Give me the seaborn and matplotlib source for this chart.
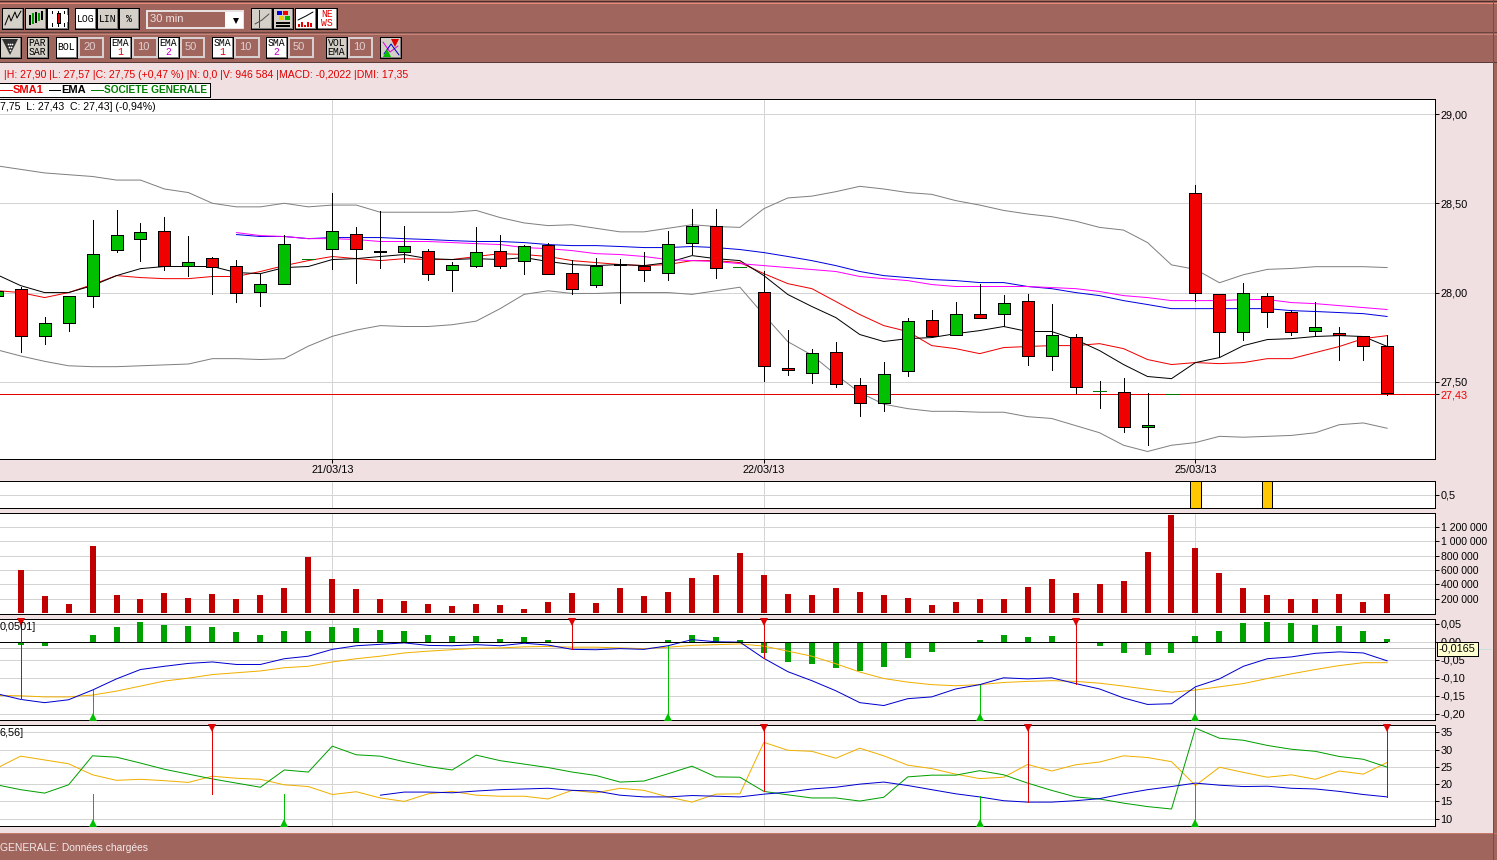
import numpy as np
import pandas as pd
import matplotlib
matplotlib.use("Agg")
import matplotlib.pyplot as plt
from matplotlib.patches import Rectangle
import seaborn as sns

# ---------------- data ----------------
bar_index = list(range(-1, 58))
highs = [28.01, 28.03, 27.865, 27.98, 28.405, 28.46, 28.39, 28.425, 28.315, 28.20, 28.18, 28.105, 28.325, 28.19, 28.56, 28.37, 28.455, 28.375, 28.245, 28.17, 28.37, 28.32, 28.265, 28.28, 28.185, 28.195, 28.19, 28.225, 28.345, 28.47, 28.47, 28.145, 28.12, 27.79, 27.685, 27.725, 27.52, 27.61, 27.855, 27.905, 27.95, 28.05, 27.985, 27.99, 27.935, 27.77, 27.505, 27.52, 27.435, 27.43, 28.605, 27.99, 28.055, 28.00, 27.905, 27.945, 27.81, 27.755, 27.76]
lows = [27.98, 27.665, 27.71, 27.785, 27.92, 28.23, 28.175, 28.125, 28.095, 27.99, 27.95, 27.925, 28.05, 28.19, 28.13, 28.055, 28.14, 28.17, 28.07, 28.01, 28.145, 28.135, 28.105, 28.105, 27.99, 28.03, 27.94, 28.065, 28.07, 28.215, 28.08, 28.145, 27.505, 27.54, 27.495, 27.47, 27.31, 27.335, 27.535, 27.75, 27.765, 27.86, 27.815, 27.595, 27.565, 27.435, 27.355, 27.22, 27.145, 27.43, 27.955, 27.645, 27.735, 27.81, 27.76, 27.755, 27.62, 27.625, 27.425]
opens = [27.98, 28.02, 27.755, 27.83, 27.98, 28.24, 28.30, 28.345, 28.15, 28.195, 28.15, 28.005, 28.05, 28.19, 28.245, 28.33, 28.23, 28.23, 28.235, 28.125, 28.15, 28.235, 28.175, 28.265, 28.11, 28.04, 28.155, 28.15, 28.11, 28.275, 28.375, 28.145, 28.005, 27.58, 27.55, 27.665, 27.48, 27.38, 27.56, 27.845, 27.765, 27.88, 27.88, 27.955, 27.645, 27.75, 27.45, 27.445, 27.245, 27.43, 28.555, 27.99, 27.78, 27.98, 27.89, 27.785, 27.775, 27.755, 27.70]
closes = [28.01, 27.755, 27.83, 27.98, 28.215, 28.325, 28.34, 28.15, 28.17, 28.145, 28.00, 28.05, 28.27, 28.19, 28.345, 28.245, 28.235, 28.26, 28.105, 28.155, 28.23, 28.15, 28.26, 28.105, 28.02, 28.15, 28.16, 28.125, 28.27, 28.375, 28.14, 28.145, 27.59, 27.565, 27.66, 27.49, 27.38, 27.545, 27.84, 27.755, 27.88, 27.86, 27.94, 27.645, 27.765, 27.47, 27.45, 27.25, 27.26, 27.43, 27.995, 27.78, 27.995, 27.89, 27.78, 27.805, 27.765, 27.70, 27.435]
boll_upper = [28.71, 28.69, 28.67, 28.66, 28.65, 28.63, 28.63, 28.58, 28.56, 28.50, 28.48, 28.48, 28.50, 28.48, 28.49, 28.49, 28.45, 28.45, 28.45, 28.45, 28.46, 28.42, 28.39, 28.375, 28.38, 28.36, 28.34, 28.34, 28.36, 28.38, 28.37, 28.365, 28.47, 28.53, 28.54, 28.565, 28.595, 28.58, 28.56, 28.55, 28.515, 28.49, 28.46, 28.44, 28.425, 28.40, 28.365, 28.35, 28.28, 28.155, 28.13, 28.055, 28.10, 28.13, 28.135, 28.145, 28.145, 28.145, 28.14]
boll_lower = [27.68, 27.645, 27.615, 27.59, 27.585, 27.585, 27.59, 27.595, 27.60, 27.63, 27.63, 27.625, 27.63, 27.70, 27.755, 27.79, 27.815, 27.81, 27.81, 27.82, 27.84, 27.91, 27.99, 28.01, 27.995, 27.995, 28.00, 28.00, 28.00, 27.99, 28.01, 28.03, 27.875, 27.725, 27.65, 27.54, 27.44, 27.375, 27.35, 27.335, 27.335, 27.33, 27.33, 27.305, 27.295, 27.255, 27.215, 27.145, 27.11, 27.145, 27.16, 27.195, 27.19, 27.195, 27.20, 27.215, 27.26, 27.27, 27.24]
sma1 = [28.011, 28.0, 27.972, 28.0, 28.045, 28.095, 28.084, 28.078, 28.078, 28.09, 28.09, 28.118, 28.151, 28.179, 28.202, 28.19, 28.179, 28.19, 28.185, 28.185, 28.202, 28.218, 28.213, 28.202, 28.179, 28.168, 28.157, 28.151, 28.157, 28.179, 28.179, 28.168, 28.106, 28.05, 28.022, 27.95, 27.877, 27.815, 27.782, 27.703, 27.686, 27.658, 27.692, 27.698, 27.703, 27.703, 27.714, 27.686, 27.625, 27.597, 27.608, 27.602, 27.608, 27.63, 27.63, 27.664, 27.698, 27.742, 27.759]
ema1 = [28.101, 28.039, 28.0, 28.0, 28.039, 28.095, 28.134, 28.146, 28.146, 28.146, 28.112, 28.106, 28.14, 28.146, 28.185, 28.19, 28.202, 28.213, 28.19, 28.185, 28.19, 28.185, 28.196, 28.174, 28.157, 28.151, 28.157, 28.151, 28.168, 28.207, 28.19, 28.179, 28.095, 27.989, 27.922, 27.86, 27.765, 27.726, 27.742, 27.748, 27.77, 27.787, 27.81, 27.782, 27.782, 27.737, 27.675, 27.597, 27.53, 27.518, 27.608, 27.636, 27.703, 27.737, 27.742, 27.754, 27.759, 27.754, 27.698]
long_index = list(range(9, 58))
ema2 = [28.325, 28.314, 28.314, 28.302, 28.308, 28.308, 28.308, 28.302, 28.297, 28.291, 28.286, 28.286, 28.28, 28.269, 28.263, 28.263, 28.258, 28.252, 28.252, 28.258, 28.252, 28.241, 28.224, 28.202, 28.179, 28.151, 28.118, 28.095, 28.084, 28.073, 28.067, 28.056, 28.056, 28.034, 28.022, 28.0, 27.983, 27.955, 27.933, 27.91, 27.91, 27.91, 27.91, 27.91, 27.899, 27.894, 27.888, 27.882, 27.866]
sma2 = [28.336, 28.319, 28.314, 28.302, 28.302, 28.297, 28.286, 28.286, 28.286, 28.28, 28.274, 28.269, 28.252, 28.246, 28.235, 28.218, 28.213, 28.202, 28.185, 28.179, 28.174, 28.162, 28.151, 28.14, 28.129, 28.118, 28.09, 28.078, 28.067, 28.045, 28.034, 28.034, 28.034, 28.034, 28.028, 28.022, 28.006, 27.983, 27.972, 27.955, 27.955, 27.955, 27.961, 27.961, 27.944, 27.938, 27.927, 27.916, 27.905]
last_price = 27.43
price_ticks = [29.0, 28.5, 28.0, 27.5, 27.43]
price_labels = ["29,00", "28,50", "28,00", "27,50", "27,43"]
date_ticks = [13, 31, 49]
date_labels = ["21/03/13", "22/03/13", "25/03/13"]

flag_index = [49, 52]
flag_values = [1, 1]

vol_index = list(range(0, 58))
volumes = [602, 241, 130, 935, 255, 199, 282, 213, 269, 199, 255, 352, 782, 477, 338, 199, 171, 130, 102, 130, 116, 60, 157, 282, 144, 352, 241, 296, 491, 532, 838, 532, 269, 255, 352, 296, 255, 213, 116, 157, 199, 199, 366, 477, 282, 407, 449, 852, 1366, 907, 560, 352, 255, 199, 199, 269, 157, 269]
vol_ticks = [200, 400, 600, 800, 1000, 1200]
vol_labels = ["200 000", "400 000", "600 000", "800 000", "1 000 000", "1 200 000"]

macd_hist = [-0.010, -0.013, -0.004, 0.018, 0.040, 0.054, 0.048, 0.045, 0.040, 0.026, 0.020, 0.031, 0.031, 0.040, 0.037, 0.034, 0.031, 0.020, 0.015, 0.015, 0.009, 0.012, 0.006, -0.004, -0.004, 0.0, 0.0, 0.006, 0.020, 0.012, 0.006, -0.032, -0.057, -0.063, -0.074, -0.082, -0.071, -0.044, -0.027, -0.004, 0.006, 0.020, 0.012, 0.015, -0.004, -0.013, -0.032, -0.038, -0.030, 0.015, 0.029, 0.051, 0.056, 0.051, 0.048, 0.043, 0.031, 0.009]
macd_line = [-0.144, -0.160, -0.169, -0.161, -0.134, -0.103, -0.077, -0.068, -0.060, -0.056, -0.063, -0.063, -0.047, -0.040, -0.021, -0.011, -0.007, -0.003, -0.010, -0.011, -0.008, -0.011, -0.004, -0.009, -0.021, -0.022, -0.019, -0.021, -0.011, 0.006, 0.0, -0.001, -0.046, -0.083, -0.108, -0.136, -0.169, -0.177, -0.158, -0.153, -0.131, -0.119, -0.100, -0.103, -0.100, -0.116, -0.131, -0.156, -0.174, -0.172, -0.125, -0.103, -0.068, -0.047, -0.042, -0.032, -0.028, -0.031, -0.053]
macd_signal = [-0.149, -0.150, -0.153, -0.153, -0.148, -0.137, -0.123, -0.109, -0.101, -0.091, -0.086, -0.081, -0.072, -0.068, -0.056, -0.047, -0.040, -0.031, -0.026, -0.022, -0.018, -0.017, -0.014, -0.013, -0.015, -0.015, -0.017, -0.019, -0.015, -0.010, -0.008, -0.006, -0.012, -0.026, -0.040, -0.061, -0.084, -0.102, -0.112, -0.119, -0.122, -0.119, -0.113, -0.110, -0.108, -0.110, -0.115, -0.123, -0.132, -0.140, -0.134, -0.125, -0.116, -0.102, -0.089, -0.077, -0.066, -0.058, -0.058]
macd_ticks = [0.05, 0.0, -0.05, -0.10, -0.15, -0.20]
macd_labels = ["0,05", "0,00", "-0,05", "-0,10", "-0,15", "-0,20"]
macd_sell = [0, 23, 31, 44]
macd_buy = [3, 27, 40, 49]
macd_current = -0.0165

dmi_plus = [19.8, 18.4, 17.4, 19.8, 28.2, 27.8, 26.1, 24.3, 22.9, 21.5, 20.3, 19.1, 24.1, 23.5, 31, 28.5, 28.1, 26.5, 25.1, 24.1, 28.4, 26.8, 25.8, 24.8, 23.5, 22.5, 20.6, 20.9, 23, 25.2, 22.1, 22, 17.9, 16.9, 16, 16, 15.1, 16.2, 22.1, 22.6, 22.6, 23.9, 22.7, 20.3, 18.2, 16.3, 15.7, 14.5, 13.5, 12.8, 36.2, 33.3, 32.7, 31.2, 30.1, 29.5, 28, 27.2, 24.9]
dmi_minus = [24.6, 28.1, 27, 25.9, 22.7, 21.1, 21.4, 21, 20.5, 22.3, 21.7, 21.4, 19.8, 19.3, 17, 17.8, 16, 15, 17.2, 17.9, 16.8, 16.5, 16.5, 15.7, 18.2, 17.5, 18.8, 18.2, 16.3, 14.8, 17.1, 17.2, 32.1, 29.8, 29.5, 27.5, 30.4, 28.2, 25.5, 24.5, 22.9, 21.6, 22, 25.7, 23.8, 25.6, 26.4, 28.2, 27.7, 26.5, 19.6, 24.9, 23.4, 22, 22.7, 21.4, 23.8, 22.9, 26.3]
adx_index = list(range(15, 58))
adx = [16.8, 17.7, 17.7, 17.5, 18, 18.4, 18.6, 18.8, 18.2, 18, 16.8, 16.3, 16.3, 16.7, 16.5, 16.3, 17.1, 17.7, 18.6, 19.1, 20, 20.6, 19.6, 18.4, 17.2, 16.3, 15.2, 14.8, 14.8, 15.2, 15.8, 17.2, 18.4, 19.3, 20.3, 19.7, 19.3, 19.4, 18.8, 18.6, 17.9, 17, 16.3]
dmi_ticks = [35, 30, 25, 20, 15, 10]
dmi_sell = [8, 31, 42, 57]
dmi_sell_level = [17, 17.9, 14.8, 16.3]
dmi_buy = [3, 11, 40, 49]
dmi_buy_level = [17.2, 17.2, 16.6, 20.3]

# ---------------- styles ----------------
W, H = 1497, 860
BROWN = "#A0665E"
PINK = "#F0E0E1"
GRID = "#D4D4D4"
PX = 0.72
THIN = 0.72
sns.set_theme(style="white", rc={
    "lines.antialiased": False, "patch.antialiased": False,
    "axes.edgecolor": "black", "axes.linewidth": PX, "axes.axisbelow": True,
    "grid.color": GRID, "grid.linewidth": PX, "xtick.color": "black", "ytick.color": "black"})
plt.rcParams["font.family"] = ["Liberation Sans", "DejaVu Sans"]

fig = plt.figure(figsize=(W / 100, H / 100), dpi=100, facecolor=PINK)
AX_R = 1435


def panel(top, bottom, ylim, ticks, labels):
    ax = fig.add_axes([0, 1 - bottom / H, AX_R / W, (bottom - top) / H], facecolor="white")
    return ax, ylim, ticks, labels


def finish(ax, ylim, ticks, labels, show_dates=False, size=7.8):
    ax.set_xlim(-20.6 / 23.977, (AX_R - 20.6) / 23.977)
    ax.set_ylim(*ylim)
    ax.set_xticks(date_ticks)
    ax.set_yticks(ticks)
    ax.set_yticklabels(labels)
    ax.set_xlabel("")
    ax.set_ylabel("")
    ax.grid(True, axis="both")
    ax.spines["left"].set_visible(False)
    ax.tick_params(axis="y", left=False, right=True, labelleft=False, labelright=True,
                   length=3.0, width=PX, pad=1.0, labelsize=size)
    if show_dates:
        ax.set_xticklabels(date_labels)
        ax.tick_params(axis="x", bottom=True, length=3.0, width=PX, pad=1.5, labelsize=size)
    else:
        ax.tick_params(axis="x", bottom=False, labelbottom=False)


def line(ax, x, y, color):
    sns.lineplot(x=x, y=y, ax=ax, color=color, linewidth=THIN, estimator=None, sort=False,
                 legend=False, errorbar=None, antialiased=True)


def signals(ax, idx, levels, limit, color, marker, frac):
    ax.vlines(idx, levels, limit, color=color, linewidth=PX, zorder=4)
    ax.plot(idx, [frac] * len(idx), linestyle="none", marker=marker, ms=5.6, mfc=color, mec=color,
            mew=0, transform=ax.get_xaxis_transform(), clip_on=False, zorder=5)


# ---- main price panel ----
ax, ylim, ticks, labels = panel(99, 459, (27.068, 29.084), price_ticks, price_labels)
ax.axhline(last_price, color="#E80000", linewidth=PX, zorder=1.5)
for series, col in ((boll_upper, "#808080"), (boll_lower, "#808080"), (sma1, "#F00000"), (ema1, "#000000")):
    line(ax, bar_index, series, col)
line(ax, long_index, ema2, "#0000E0")
line(ax, long_index, sma2, "#FF00FF")
candles = pd.DataFrame({"i": bar_index, "o": opens, "h": highs, "l": lows, "c": closes})
moving = candles[candles.h != candles.l]
ax.vlines(moving.i, moving.l, moving.h, color="black", linewidth=PX, zorder=3)
real = candles[candles.o != candles.c]
ax.bar(real.i, (real.c - real.o).abs(), bottom=real[["o", "c"]].min(axis=1), width=0.5,
       color=np.where(real.c > real.o, "#00C000", "#F00000"), edgecolor="black", linewidth=PX, zorder=4)
flat = candles[candles.o == candles.c]
ax.hlines(flat.o, flat.i - 0.27, flat.i + 0.27, color="#007800", linewidth=PX, zorder=4)
finish(ax, ylim, ticks, labels, show_dates=True)
for lab in ax.get_yticklabels():
    if lab.get_text() == "27,43":
        lab.set_color("#F00000")

# ---- flag panel ----
ax, ylim, ticks, labels = panel(481, 508, (0, 1), [0.5], ["0,5"])
ax.bar(flag_index, flag_values, width=0.42, color="#FFC800", edgecolor="black", linewidth=PX, zorder=3)
finish(ax, ylim, ticks, labels)

# ---- volume panel ----
ax, ylim, ticks, labels = panel(513, 614, (-10, 1392), vol_ticks, vol_labels)
sns.barplot(x=vol_index, y=volumes, native_scale=True, ax=ax, color="#C00000", saturation=1,
            width=0.25, errorbar=None, legend=False, zorder=3, linewidth=0)
finish(ax, ylim, ticks, labels, size=7.6)

# ---- MACD panel ----
ax, ylim, ticks, labels = panel(619, 720, (-0.2172, 0.0633), macd_ticks, macd_labels)
sns.barplot(x=vol_index, y=macd_hist, native_scale=True, ax=ax, color="#00A000", saturation=1,
            width=0.25, errorbar=None, legend=False, zorder=2, linewidth=0)
ax.axhline(macd_current, color="#BEBEBE", linewidth=PX, zorder=1.5)
ax.hlines(0, -1, 57, color="black", linewidth=PX, zorder=2.5)
line(ax, bar_index, macd_signal, "#F0B000")
line(ax, bar_index, macd_line, "#0000D0")
by_bar = dict(zip(bar_index, macd_line))
signals(ax, macd_sell, [by_bar[i] for i in macd_sell], ylim[1], "#E00000", "v", 0.97)
signals(ax, macd_buy, [by_bar[i] for i in macd_buy], ylim[0], "#00C000", "^", 0.03)
finish(ax, ylim, ticks, labels)

# ---- DMI panel ----
ax, ylim, ticks, labels = panel(725, 826, (7.88, 37.12), dmi_ticks, [str(t) for t in dmi_ticks])
line(ax, bar_index, dmi_minus, "#F0B000")
line(ax, bar_index, dmi_plus, "#00A000")
line(ax, adx_index, adx, "#0000D0")
signals(ax, dmi_sell, dmi_sell_level, ylim[1], "#E00000", "v", 0.97)
signals(ax, dmi_buy, dmi_buy_level, ylim[0], "#00C000", "^", 0.03)
finish(ax, ylim, ticks, labels)

# ---------------- window chrome (pixel coordinates) ----------------
ov = fig.add_axes([0, 0, 1, 1], facecolor="none", zorder=10)
ov.set_xlim(0, W)
ov.set_ylim(H, 0)
ov.axis("off")


def rect(x0, y0, x1, y1, fc, ec="none", lw=PX, z=1):
    ov.add_patch(Rectangle((x0, y0), x1 - x0, y1 - y0, facecolor=fc, edgecolor=ec, linewidth=lw, zorder=z))


def button(x0, x1, y0, y1, text=None, fc="#D4D0C8", colors=None):
    rect(x0, y0, x1, y1, fc, "black", z=2)
    ov.plot([x0 + 1, x1 - 1, x1 - 1], [y1 - 1, y1 - 1, y0 + 1], color="#808080", lw=PX, zorder=3)
    if text:
        parts = text.split("\n")
        n = len(parts)
        for k, part in enumerate(parts):
            yc = (y0 + y1) / 2 + (k - (n - 1) / 2) * 9.5
            col = colors[k] if colors else "black"
            ov.text((x0 + x1) / 2, yc, part, ha="center", va="center", fontsize=7,
                    family="Liberation Mono", color=col, zorder=4)


def field(x0, x1, y0, y1, text):
    rect(x0, y0, x1, y1, BROWN, "#D8D0D0", lw=1.2, z=2)
    ov.text(x0 + 4, (y0 + y1) / 2, text, ha="left", va="center", fontsize=8, color="#E0D0D0", zorder=4)


def icon(xs, ys, color):
    ov.plot(xs, ys, color=color, lw=THIN, antialiased=True, zorder=4)


rect(0, 0, W, 62, BROWN)
rect(0, 833, W, H, BROWN)
rect(1493, 0, W, H, BROWN)
for y, col in ((1, "#4A2E2A"), (3, "#E8897A"), (32, "#6A443F"), (33.5, "#C88478"), (61.5, "#5A3A36"), (833, "#C87868"), (859.5, "#5A3A36")):
    ov.plot([0, W], [y, y], color=col, lw=PX, zorder=1.5)
ov.plot([1493, 1493], [0, H], color="#7A4A44", lw=PX, zorder=1.5)

R1 = (8, 29)
button(2, 23, *R1)
icon([5, 9, 11, 15, 17, 21], [25, 15, 21, 12, 18, 11], "black")
button(25, 46, *R1)
ov.vlines([30, 36, 42], [15, 12, 11], [25, 23, 20], color="black", lw=1.2, zorder=4)
ov.vlines([33, 39], [13, 13], [24, 21], color="#00A000", lw=1.2, zorder=4)
button(47, 68, *R1, fc="white")
ov.vlines([52, 58, 64], [11, 11, 11], [26, 26, 26], color="black", lw=PX, zorder=4)
ov.add_patch(Rectangle((50.5, 15), 3, 6, fc="black", zorder=5))
ov.add_patch(Rectangle((56.5, 13), 3.5, 10, fc="#E00000", ec="black", lw=PX, zorder=5))
ov.add_patch(Rectangle((62.5, 15), 3, 6, fc="black", zorder=5))
button(75, 96, *R1, "LOG", fc="white")
button(97, 118, *R1, "LIN")
button(119, 139, *R1, "%")
rect(147, 11, 243, 28, BROWN, "#E8E0E0", lw=1.2, z=2)
rect(225, 12, 243, 28, "white", z=3)
ov.text(150, 19.5, "30 min", ha="left", va="center", fontsize=8, color="#F0E0E0", zorder=4)
ov.plot([235.5], [20.5], marker="v", ms=5, mfc="black", mec="black", mew=0, zorder=5)
button(251, 272, *R1)
ov.plot([259, 259], [10, 27], color="#D00000", lw=PX, zorder=4)
icon([255, 262, 269], [24, 20, 14], "#505050")
button(273, 293, *R1)
rect(277, 11, 282, 15, "#0000E0", z=4)
rect(283, 11, 288, 15, "#F00000", z=4)
rect(279, 16, 284, 20, "#E8D000", z=4)
rect(285, 16, 290, 20, "#00B000", z=4)
ov.hlines([23, 26], 276, 290, color="black", lw=1.4, zorder=4)
button(295, 316, *R1, fc="white")
icon([298, 306, 313], [20, 16, 12], "black")
ov.vlines([299, 302, 305, 308, 311], [24, 22, 25, 22, 23], 27, color="#E00000", lw=1.2, zorder=4)
button(317, 337, *R1, "NE\nWS", fc="white", colors=["#E00000", "#E00000"])

R2 = (37, 58)
button(0, 21, *R2)
ov.plot([10], [47], marker="v", ms=12, mfc="#303030", mec="black", mew=0, zorder=5)
ov.plot([8, 10, 12, 9, 11, 10], [44, 44, 44, 47, 47, 50], linestyle="none", marker=".", ms=2.5,
        mfc="white", mec="white", mew=0, zorder=6)
button(27, 48, *R2, "PAR\nSAR")
button(56, 77, *R2, "BOL", fc="white")
field(79, 103, 38, 57, "20")
button(110, 131, *R2, "EMA\n1", fc="white", colors=["black", "#E00000"])
field(133, 157, 38, 57, "10")
button(158, 179, *R2, "EMA\n2", fc="white", colors=["black", "#C000C0"])
field(181, 204, 38, 57, "50")
button(212, 233, *R2, "SMA\n1", fc="white", colors=["black", "#E00000"])
field(235, 259, 38, 57, "10")
button(266, 287, *R2, "SMA\n2", fc="white", colors=["black", "#C000C0"])
field(289, 313, 38, 57, "50")
button(326, 347, *R2, "VOL\nEMA")
field(349, 372, 38, 57, "10")
button(380, 401, *R2)
icon([383, 390, 398], [42, 52, 46], "#E000E0")
icon([384, 391, 399], [54, 44, 55], "#0000D0")
ov.plot([394.5], [42.5], marker="v", ms=6, mfc="#E00000", mec="#E00000", mew=0, zorder=5)
ov.plot([386.5], [52.5], marker="^", ms=6, mfc="#00C000", mec="#00C000", mew=0, zorder=5)

ov.text(4, 74.5, "|H: 27,90 |L: 27,57 |C: 27,75 (+0,47 %) |N: 0,0 |V: 946 584 |MACD: -0,2022 |DMI: 17,35",
        ha="left", va="center", fontsize=7.55, color="#E00000")
rect(-2, 82.5, 209.5, 97, "white", "black", z=2)
for tag, x_line, x_text, size, col in (("SMA1", 0, 13, 8, "#F00000"), ("EMA", 49, 61, 8, "black"),
                                       ("SOCIETE GENERALE", 91, 104, 7.3, "#008000")):
    ov.plot([x_line, x_text - 1], [90, 90], color=col, lw=PX, zorder=3)
    ov.text(x_text, 90, tag, ha="left", va="center", fontsize=size, fontweight="bold", color=col, zorder=3)
ov.text(0, 107.5, "7,75  L: 27,43  C: 27,43] (-0,94%)", ha="left", va="center", fontsize=7.6, color="black")
ov.text(0, 627.5, "0,0501]", ha="left", va="center", fontsize=7.8, color="black")
ov.text(0, 733.5, "6,56]", ha="left", va="center", fontsize=7.8, color="black")
ov.text(0, 848, "GENERALE: Données chargées", ha="left", va="center", fontsize=7.4, color="#F4E8E8")
rect(1436.5, 641.5, 1478, 655.5, "#FFFFD0", "black", z=5)
ov.text(1457, 648.7, "-0,0165", ha="center", va="center", fontsize=7.8, color="black", zorder=6)
ov.plot([1478, 1491], [648.5, 648.5], color="#C8E0DC", lw=PX, zorder=2)

fig.savefig("out.png", dpi=100, facecolor=PINK)
